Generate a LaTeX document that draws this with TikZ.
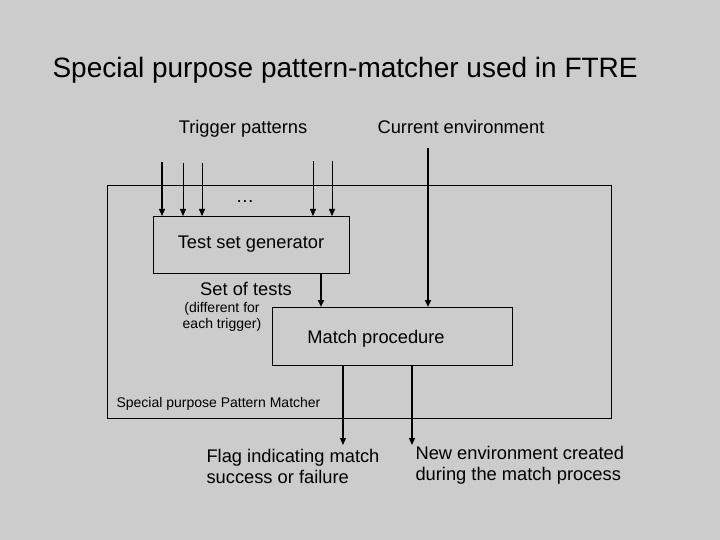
\documentclass[tikz,border=0pt]{standalone}
\usepackage{fontspec}
\setmainfont{Liberation Sans}
\usetikzlibrary{arrows.meta}
\definecolor{slide}{RGB}{204,204,204}
\begin{document}
\begin{tikzpicture}[x=1pt,y=-1pt]

\tikzset{line/.style={draw,thin}}
\tikzset{arrow/.style={line,-{Triangle[length=7pt,width=6pt]}}}
\tikzset{bold/.style={arrow,line width=1.8pt}}
\tikzset{txt/.style={font=\fontsize{18.3}{21}\selectfont}}
\tikzset{small/.style={font=\fontsize{14}{16}\selectfont}}

\fill[slide] (0,0) rectangle (720,540);
\useasboundingbox (0,0) rectangle (720,540);

\node[font=\fontsize{28}{32}\selectfont,anchor=west] (title) at (49,70) {Special purpose pattern-matcher used in FTRE};
\node[txt,anchor=base] (trig) at (243,134) {Trigger patterns};
\node[txt,anchor=base] (curr) at (461,134) {Current environment};

\draw[line] (107,185) rectangle (611,418);
\node[small,anchor=west] (spm) at (113,404) {Special purpose Pattern Matcher};

\draw[line] (153,216) rectangle (349,273);
\node[txt] (tsg) at (251,244) {Test set generator};
\draw[line] (272,307) rectangle (512,365);
\node[txt] (mp) at (376,339) {Match procedure};

\node[txt] (dots) at (245,202) {\dots};
\coordinate (t1) at (162,162); \coordinate (e1) at (162,216);
\coordinate (t2) at (183,163); \coordinate (e2) at (183,216);
\coordinate (t3) at (202,163); \coordinate (e3) at (202,216);
\coordinate (t4) at (313,161); \coordinate (e4) at (313,216);
\coordinate (t5) at (332,161); \coordinate (e5) at (332,216);
\draw[arrow,line width=1.2pt] (t1) -- (e1);
\draw[arrow] (t2) -- (e2);
\draw[arrow] (t3) -- (e3);
\draw[arrow] (t4) -- (e4);
\draw[arrow] (t5) -- (e5);

\coordinate (c0) at (428,148); \coordinate (c1) at (428,307);
\draw[bold] (c0) -- (c1);

\node[txt] (sot) at (246,289) {Set of tests};
\node[small,align=center] (diff) at (222,317) {(different for\\ each trigger)};
\coordinate (s0) at (321,273); \coordinate (s1) at (321,307);
\draw[bold] (s0) -- (s1);

\coordinate (f0) at (343,365); \coordinate (f1) at (343,445);
\coordinate (n0) at (412,365); \coordinate (n1) at (412,445);
\draw[arrow,line width=1.2pt] (f0) -- (f1);
\draw[arrow,line width=1.2pt] (n0) -- (n1);
\node[txt,align=left,anchor=north west] (flag) at (203,446) {Flag indicating match\\success or failure};
\node[txt,align=left,anchor=north west] (newenv) at (412,443) {New environment created\\during the match process};

\end{tikzpicture}
\end{document}
